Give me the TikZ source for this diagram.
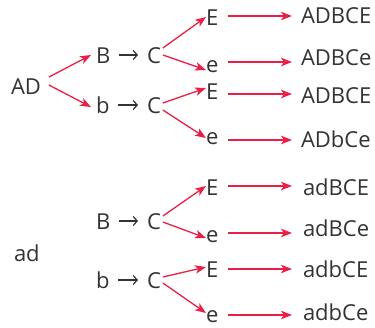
\documentclass[tikz,border=0pt]{standalone}
\usepackage{fontspec}
\setmainfont{Open Sans}
\usetikzlibrary{arrows.meta,calc}
\definecolor{txt}{HTML}{333333}
\definecolor{rd}{HTML}{EB1E45}
\begin{document}
\begin{tikzpicture}[x=1pt,y=-1pt,
  lbl/.style={anchor=base west,inner sep=0pt,outer sep=0pt,text height=16pt,text depth=0pt,
    text=txt,font=\fontsize{22}{26}\selectfont},
  ra/.style={draw=rd,line width=1.3pt,-{Stealth[length=11pt,width=8.5pt,inset=3pt]}},
  ka/.style={draw=txt,line width=1.2pt,-{Straight Barb[length=4pt,width=9pt]},shorten <=9pt,shorten >=9pt}]
\useasboundingbox (0,0) rectangle (375,327);
% nodes
\node[lbl] (AD) at (11,94) {AD};
\node[lbl] (B1) at (96,63) {B};
\node[lbl] (C1) at (147,63) {C};
\node[lbl] (b1) at (96,113) {b};
\node[lbl] (C2) at (147,113) {C};
\node[lbl] (E1) at (206,25) {E};
\node[lbl] (e1) at (206,72) {e};
\node[lbl] (E2) at (206,99) {E};
\node[lbl] (e2) at (206,144) {e};
\node[lbl] (R1) at (301,23) {ADBCE};
\node[lbl] (R2) at (301,65) {ADBCe};
\node[lbl] (R3) at (301,103) {ADBCE};
\node[lbl] (R4) at (301,147) {ADbCe};
\node[lbl] (ad) at (14,261) {ad};
\node[lbl] (B2) at (96,229) {B};
\node[lbl] (C3) at (147,229) {C};
\node[lbl] (b2) at (96,288) {b};
\node[lbl] (C4) at (147,288) {C};
\node[lbl] (E3) at (206,195) {E};
\node[lbl] (e3) at (206,242) {e};
\node[lbl] (E4) at (206,277) {E};
\node[lbl] (e4) at (206,322) {e};
\node[lbl] (R5) at (303,195) {adBCE};
\node[lbl] (R6) at (303,236) {adBCe};
\node[lbl] (R7) at (303,277) {adbCE};
\node[lbl] (R8) at (303,320) {adbCe};
% black arrows
\draw[ka] (B1.east) -- (C1.west);
\draw[ka] (b1.east) -- (C2.west);
\draw[ka] (B2.east) -- (C3.west);
\draw[ka] (b2.east) -- (C4.west);
% red branches
\draw[ra] ($(AD.east)+(8,-9)$) -- ($(B1.west)+(-5,0)$);
\draw[ra] ($(AD.east)+(8,-1)$) -- ($(b1.west)+(-5,2)$);
\draw[ra] ($(C1.east)+(2,-7)$) -- ($(E1.west)+(0,0)$);
\draw[ra] ($(C1.east)+(2,0)$) -- ($(e1.west)+(0,6)$);
\draw[ra] ($(C2.east)+(2,-2)$) -- ($(E2.west)+(0,-3)$);
\draw[ra] ($(C2.east)+(2,5)$) -- ($(e2.west)+(0,2)$);
\draw[ra] ($(C3.east)+(2,-5)$) -- ($(E3.west)+(0,-1)$);
\draw[ra] ($(C3.east)+(2,1)$) -- ($(e3.west)+(0,4)$);
\draw[ra] ($(C4.east)+(2,-3)$) -- ($(E4.west)+(0,-2)$);
\draw[ra] ($(C4.east)+(2,3)$) -- ($(e4.west)+(0,-1)$);
% red horizontal arrows
\draw[ra] ($(E1.east)+(10,-1)$) -- ($(E1.east -| R1.west)+(-9,-1)$);
\draw[ra] ($(e1.east)+(10,-2)$) -- ($(e1.east -| R2.west)+(-9,-2)$);
\draw[ra] ($(E2.east)+(10,3)$) -- ($(E2.east -| R3.west)+(-9,3)$);
\draw[ra] ($(e2.east)+(10,4)$) -- ($(e2.east -| R4.west)+(-9,4)$);
\draw[ra] ($(E3.east)+(10,-1)$) -- ($(E3.east -| R5.west)+(-11,-1)$);
\draw[ra] ($(e3.east)+(10,-1)$) -- ($(e3.east -| R6.west)+(-11,-1)$);
\draw[ra] ($(E4.east)+(10,0)$) -- ($(E4.east -| R7.west)+(-11,0)$);
\draw[ra] ($(e4.east)+(10,1)$) -- ($(e4.east -| R8.west)+(-11,1)$);
\end{tikzpicture}
\end{document}
